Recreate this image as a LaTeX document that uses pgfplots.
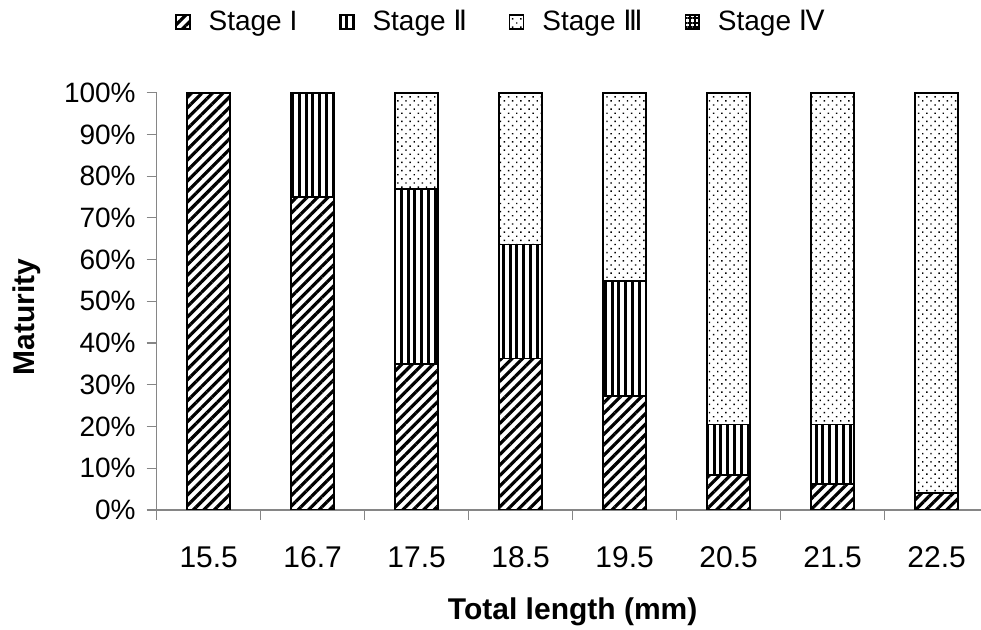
\documentclass[border=0pt]{standalone}
\usepackage{pgfplots}
\pgfplotsset{compat=1.18}
\usepackage{fontspec}
\setmainfont{Liberation Sans}
\newfontfamily\rn{DejaVu Sans}
\usetikzlibrary{patterns.meta}
\definecolor{axgray}{RGB}{134,134,134}
\pgfplotsset{
  leg/.style={legend image code/.code={\draw[##1,line width=0.6pt] (0pt,-3.5pt) rectangle (7pt,3.5pt);}},
}
\begin{document}
\begin{tikzpicture}
\begin{axis}[
  at={(0pt,0pt)}, anchor=south west,
  scale only axis, width=416pt, height=208.65pt,
  ybar stacked, bar width=0.41,
  xmin=-0.5, xmax=7.5, ymin=0, ymax=100,
  axis x line*=bottom, axis y line*=left,
  axis line style={axgray, line width=0.6pt},
  xtick={0,...,7},
  xticklabels={15.5,16.7,17.5,18.5,19.5,20.5,21.5,22.5},
  minor xtick={-0.5,0.5,...,7.5},
  ytick={0,10,...,100},
  yticklabel={\pgfmathprintnumber{\tick}\%},
  /pgf/number format/assume math mode=true,
  tick align=outside, major tick length=5pt, minor tick length=5pt,
  tick style={axgray, line width=0.6pt},
  major x tick style={draw=none},
  xticklabel style={font=\fontsize{15}{18}\selectfont, anchor=base, yshift=-24pt},
  yticklabel style={font=\fontsize{14}{17}\selectfont, xshift=-2pt},
  xlabel={Total length (mm)},
  ylabel={Maturity},
  xlabel style={font=\fontsize{15}{18}\selectfont\bfseries, at={(axis description cs:0.5,-0.2636)}, anchor=base},
  ylabel style={font=\fontsize{15}{18}\selectfont\bfseries, at={(axis description cs:-0.1559,0.463)}, anchor=center},
  legend columns=4,
  legend cell align=left,
  legend style={draw=none, fill=none, inner sep=0pt, at={(axis description cs:0.022,1.208)}, anchor=north west,
    font=\fontsize{14}{16}\selectfont,
    /tikz/every even column/.append style={column sep=19pt},
    /tikz/every odd column/.append style={column sep=7pt}},
]
\addplot[leg, draw=black, line width=0.9pt, pattern={Lines[angle=45,distance=3.7pt,line width=1.6pt]}]
  coordinates {(0,100) (1,75) (2,34.9) (3,36.3) (4,27.3) (5,8.4) (6,6.2) (7,4.1)};
\addlegendentry{Stage I}
\addplot[leg, draw=black, line width=0.9pt, pattern={Lines[angle=90,distance=3.4pt,line width=1.5pt]}]
  coordinates {(0,0) (1,25) (2,42.1) (3,27.3) (4,27.6) (5,12.1) (6,14.3) (7,0)};
\addlegendentry{Stage {\rn Ⅱ}}
\addplot[leg, draw=black, line width=0.9pt, pattern={Dots[angle=45,distance=2.9pt,radius=0.5pt]}]
  coordinates {(0,0) (1,0) (2,23.0) (3,36.4) (4,45.1) (5,79.5) (6,79.5) (7,95.9)};
\addlegendentry{Stage {\rn Ⅲ}}
\addlegendimage{leg, draw=black, line width=0.9pt, pattern={Hatch[angle=0,distance=2.3pt,line width=0.9pt]}}
\addlegendentry{Stage {\rn Ⅳ}}
\end{axis}
\pgfresetboundingbox
\path[use as bounding box] (-78.35pt,-60pt) rectangle (412.15pt,255pt);
\end{tikzpicture}
\end{document}
